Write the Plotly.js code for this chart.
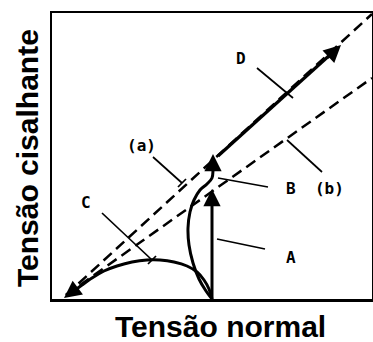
<!DOCTYPE html>
<html>
<head>
<meta charset="utf-8">
<script src="https://cdn.plot.ly/plotly-3.0.1.min.js"></script>
<style>html,body{margin:0;padding:0;background:#fff;}#chart{width:373px;height:342px;}</style>
</head>
<body>
<div id="chart"></div>
<script>
// Envelope lines (a) and (b)
const envAX = [14, 320];
const envAY = [4, 285];
const envBX = [14, 320];
const envBY = [4, 221];

// Stress path A (vertical)
const pathAX = [160, 160];
const pathAY = [0, 98];
const tipA = {x: 160, y: 110, fromX: 160, fromY: 94};

// Stress path B (curved then vertical)
const pathBX = [160, 154, 147, 141, 137, 136, 138, 142, 148, 155, 160, 161, 161];
const pathBY = [0, 8, 20, 36, 54, 71, 87, 99, 109, 115, 121, 129, 134];
const tipB = {x: 161, y: 145, fromX: 161, fromY: 128};

// Stress path C (arc to the origin)
const pathCX = [160, 157, 152, 145, 135, 122, 108, 95, 80, 65, 52, 40, 30, 22];
const pathCY = [0, 10, 19, 27, 33, 37, 39, 39, 37, 33, 28, 21, 14, 8];
const tipC = {x: 12, y: 1, fromX: 24, fromY: 10};

// Stress path D (along envelope)
const pathDX = [166, 280];
const pathDY = [143, 246];
const tipD = {x: 289, y: 254, fromX: 274, fromY: 240};

// Leader lines (null separated)
const leadX = [205, 241, null, 101, 130, null, 126, 134, null, 235, 270, null, 216, 166, null, 213, 165, null, 50, 100, null, 96, 104];
const leadY = [231, 201, null, 142, 116, null, 112, 120, null, 159, 127, null, 112, 121, null, 50, 60, null, 86, 39, null, 35, 43];

// Labels
const labelText = ['D', '(a)', 'B&nbsp;&nbsp;(b)', 'A', 'C'];
const labelX = [189, 89, 263, 239, 34];
const labelY = [241, 154, 111, 42, 97];

const xTitle = 'Tensão normal';
const yTitle = 'Tensão cisalhante';

const black = '#000000';
const traces = [
  {x: envAX, y: envAY, mode: 'lines', line: {color: black, width: 2.5, dash: '11px,6px'}, hoverinfo: 'skip'},
  {x: envBX, y: envBY, mode: 'lines', line: {color: black, width: 2.5, dash: '11px,6px'}, hoverinfo: 'skip'},
  {x: pathAX, y: pathAY, mode: 'lines', line: {color: black, width: 3}, hoverinfo: 'skip'},
  {x: pathBX, y: pathBY, mode: 'lines', line: {color: black, width: 3, shape: 'spline'}, hoverinfo: 'skip'},
  {x: pathCX, y: pathCY, mode: 'lines', line: {color: black, width: 3, shape: 'spline'}, hoverinfo: 'skip'},
  {x: pathDX, y: pathDY, mode: 'lines', line: {color: black, width: 3.2}, hoverinfo: 'skip'},
  {x: leadX, y: leadY, mode: 'lines', line: {color: black, width: 1.7}, connectgaps: false, hoverinfo: 'skip'}
];

const annotations = [];
[tipA, tipB, tipC, tipD].forEach(t => {
  annotations.push({x: t.x, y: t.y, ax: t.fromX, ay: t.fromY, xref: 'x', yref: 'y', axref: 'x', ayref: 'y',
    text: '', showarrow: true, arrowhead: 2, arrowsize: 1.15, arrowwidth: 3, arrowcolor: black, standoff: 0});
});
labelText.forEach((t, i) => {
  annotations.push({x: labelX[i], y: labelY[i], xref: 'x', yref: 'y', text: '<b>' + t + '</b>', showarrow: false,
    font: {family: 'DejaVu Sans Mono, Liberation Mono, monospace', size: 16, color: black},
    xanchor: 'center', yanchor: 'middle'});
});
annotations.push({x: 0.528, y: -0.03, xref: 'paper', yref: 'paper', text: '<b>' + xTitle + '</b>', showarrow: false,
  xanchor: 'center', yanchor: 'top', font: {family: 'Liberation Sans, Arial, sans-serif', size: 30, color: black}});
annotations.push({x: -0.078, y: 0.493, xref: 'paper', yref: 'paper', text: '<b>' + yTitle + '</b>', showarrow: false,
  textangle: -90, xanchor: 'center', yanchor: 'middle', font: {family: 'Liberation Sans, Arial, sans-serif', size: 30, color: black}});

const axisCommon = {showline: true, mirror: true, linewidth: 2.5, linecolor: black, showgrid: false, zeroline: false,
  showticklabels: false, ticks: '', fixedrange: true};

const layout = {
  width: 373, height: 342,
  margin: {l: 52, r: 1, t: 13, b: 43, pad: 0},
  paper_bgcolor: '#ffffff', plot_bgcolor: '#ffffff',
  showlegend: false,
  xaxis: Object.assign({range: [0, 320]}, axisCommon),
  yaxis: Object.assign({range: [0, 286]}, axisCommon),
  annotations: annotations
};

Plotly.newPlot('chart', traces, layout, {staticPlot: true, displayModeBar: false});
</script>
</body>
</html>
